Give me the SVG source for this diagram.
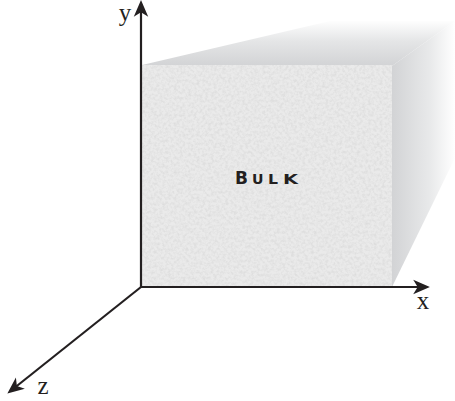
<svg xmlns="http://www.w3.org/2000/svg" width="455" height="401" viewBox="0 0 455 401">
  <style>
    .axis { stroke: #231f20; stroke-width: 2.2; fill: none; }
    .lbl { font-family: "Liberation Serif", "Times New Roman", serif; font-size: 25px; fill: #231f20; text-anchor: middle; }
    .bulk { font-family: "DejaVu Sans", "Liberation Sans", sans-serif; font-weight: bold; fill: #231f20; }
  </style>
  <defs>
    <linearGradient id="topG" x1="0" y1="66" x2="0" y2="20" gradientUnits="userSpaceOnUse">
      <stop offset="0" stop-color="#d2d3d5"/>
      <stop offset="0.55" stop-color="#e5e6e7"/>
      <stop offset="1" stop-color="#ffffff"/>
    </linearGradient>
    <linearGradient id="rightG" x1="392" y1="0" x2="455" y2="0" gradientUnits="userSpaceOnUse">
      <stop offset="0" stop-color="#d2d3d5"/>
      <stop offset="0.6" stop-color="#e8e9ea"/>
      <stop offset="1" stop-color="#ffffff"/>
    </linearGradient>
    <filter id="paper" x="0" y="0" width="100%" height="100%">
      <feTurbulence type="fractalNoise" baseFrequency="0.35" numOctaves="4" seed="7" result="n"/>
      <feColorMatrix in="n" type="matrix" values="0 0 0 0 0  0 0 0 0 0  0 0 0 0 0  0.5 0 0 0 -0.18" result="m"/>
      <feComposite in="m" in2="SourceGraphic" operator="in"/>
    </filter>
    <marker id="arr" markerUnits="userSpaceOnUse" markerWidth="20" markerHeight="20" viewBox="-8 -8 18 16" refX="0" refY="0" orient="auto">
      <path d="M8,0 L-7,-6.5 L-3,0 L-7,6.5 Z" fill="#231f20"/>
    </marker>
  </defs>

  <g id="shadow">
    <polygon points="142,65 330,21 455,21 392,66" fill="url(#topG)"/>
    <polygon points="392,66 455,21 455,158 392,287" fill="url(#rightG)"/>
  </g>

  <g id="bulk">
    <rect x="142" y="65" width="250" height="222" fill="#eaeaea"/>
    <rect x="142" y="65" width="250" height="222" fill="#ffffff" filter="url(#paper)" opacity="0.22"/>
    <text class="bulk" x="235" y="184" font-size="18" textLength="13" lengthAdjust="spacingAndGlyphs">B</text>
    <text class="bulk" x="252" y="184" font-size="14" textLength="11.5" lengthAdjust="spacingAndGlyphs">U</text>
    <text class="bulk" x="268" y="184" font-size="14" textLength="10" lengthAdjust="spacingAndGlyphs">L</text>
    <text class="bulk" x="283" y="184" font-size="14" textLength="15" lengthAdjust="spacingAndGlyphs">K</text>
  </g>

  <g id="axes">
    <line class="axis" x1="141" y1="288" x2="141" y2="9" marker-end="url(#arr)"/>
    <line class="axis" x1="140" y1="287" x2="421" y2="287" marker-end="url(#arr)"/>
    <line class="axis" x1="141" y1="287" x2="14.3" y2="388" marker-end="url(#arr)"/>
  </g>

  <g id="labels">
    <text class="lbl" x="125" y="21">y</text>
    <text class="lbl" x="423" y="309">x</text>
    <text class="lbl" x="43" y="394">z</text>
  </g>
</svg>
